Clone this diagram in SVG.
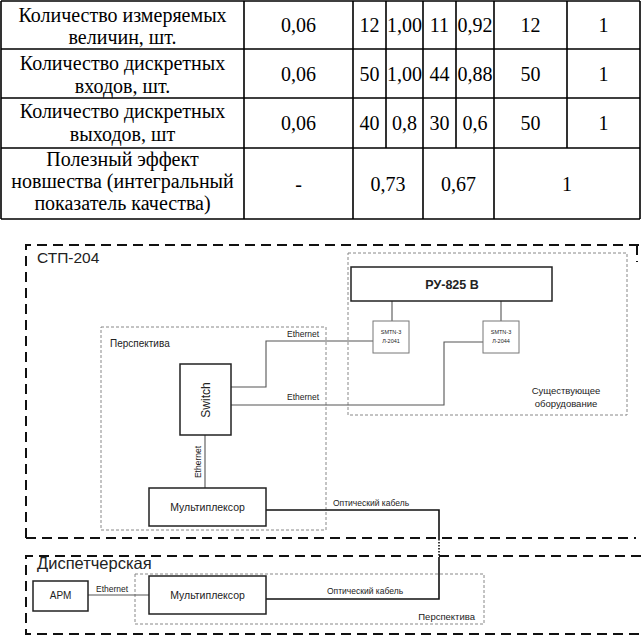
<svg xmlns="http://www.w3.org/2000/svg" width="641" height="635" viewBox="0 0 641 635">
<style>
.tl{stroke:#000;stroke-width:1.6;fill:none}
.tt{font-size:20px;fill:#000;text-anchor:middle}
.big{stroke:#111;stroke-width:2;stroke-dasharray:10 6;fill:none}
.dot{stroke:#888;stroke-width:1;stroke-dasharray:3 2;fill:none}
.box{stroke:#222;stroke-width:1.5;fill:#fff}
.sbox{stroke:#777;stroke-width:1;fill:#fff}
.ln{stroke:#555;stroke-width:1.1;fill:none}
.opt{stroke:#111;stroke-width:1.6;fill:none}
.s{font-family:"Liberation Sans",Arial,sans-serif;fill:#222}
.c{text-anchor:middle}
</style>
<rect width="641" height="635" fill="#fff"/>
<g id="table" font-family="'Liberation Serif', 'Times New Roman', 'DejaVu Serif', serif">
<path class="tl" d="M1 1H640M1 49H640M1 98H640M1 148H640M1 219H640M1 1V219M244 1V219M353 1V219M423 1V219M494 1V219M640 1V219M386 1V148M456 1V148M567 1V148"/>
<text class="tt" x="122.5" y="22">Количество измеряемых</text>
<text class="tt" x="122.5" y="44">величин, шт.</text>
<text class="tt" x="298.5" y="32">0,06</text><text class="tt" x="369.5" y="32">12</text><text class="tt" x="404.5" y="32">1,00</text><text class="tt" x="439.5" y="32">11</text><text class="tt" x="475" y="32">0,92</text><text class="tt" x="530.5" y="32">12</text><text class="tt" x="603.5" y="32">1</text>
<text class="tt" x="122.5" y="70">Количество дискретных</text>
<text class="tt" x="122.5" y="93">входов, шт.</text>
<text class="tt" x="298.5" y="81">0,06</text><text class="tt" x="369.5" y="81">50</text><text class="tt" x="404.5" y="81">1,00</text><text class="tt" x="439.5" y="81">44</text><text class="tt" x="475" y="81">0,88</text><text class="tt" x="530.5" y="81">50</text><text class="tt" x="603.5" y="81">1</text>
<text class="tt" x="122.5" y="118">Количество дискретных</text>
<text class="tt" x="122.5" y="141">выходов, шт</text>
<text class="tt" x="298.5" y="130">0,06</text><text class="tt" x="369.5" y="130">40</text><text class="tt" x="404.5" y="130">0,8</text><text class="tt" x="439.5" y="130">30</text><text class="tt" x="475" y="130">0,6</text><text class="tt" x="530.5" y="130">50</text><text class="tt" x="603.5" y="130">1</text>
<text class="tt" x="122.5" y="166">Полезный эффект</text>
<text class="tt" x="122.5" y="188">новшества (интегральный</text>
<text class="tt" x="122.5" y="210">показатель качества)</text>
<text class="tt" x="298.5" y="191">-</text><text class="tt" x="388" y="191">0,73</text><text class="tt" x="458.5" y="191">0,67</text><text class="tt" x="567" y="191">1</text>
</g>
<g id="zones">
<path class="big" d="M26 538V245H641M637 245V262M26 538H636"/>
<text class="s" x="37" y="263" font-size="15.5">СТП-204</text>
<path class="big" d="M641 556H26V634H641"/>
<text class="s" x="37" y="569" font-size="16.5">Диспетчерская</text>
<rect class="dot" x="101" y="327" width="225" height="203"/>
<text class="s" x="110" y="347" font-size="10">Перспектива</text>
<rect class="dot" x="348" y="253" width="279" height="162"/>
<text class="s c" x="566" y="394" font-size="9.5">Существующее</text>
<text class="s c" x="566" y="407" font-size="9.5">оборудование</text>
<rect class="dot" x="135" y="574" width="349" height="50"/>
<text class="s" x="475" y="620" font-size="9.5" text-anchor="end">Перспектива</text>
</g>
<g id="connectors">
<path class="ln" d="M231 387H266V341H373"/>
<path class="ln" d="M231 405H444V342H483"/>
<path class="ln" d="M392 301V321M501 301V321"/>
<path class="ln" d="M205 435V488"/>
<path class="ln" d="M88 595H149"/>
<path class="opt" d="M266 510H439V539"/>
<path class="opt" d="M439 539V558" stroke-dasharray="1.5 1.5"/>
<path class="opt" d="M439 558V599H266"/>
<text class="s" x="287" y="337" font-size="8.5">Ethernet</text>
<text class="s" x="287" y="400" font-size="8.5">Ethernet</text>
<text class="s c" font-size="8.5" transform="translate(201 462) rotate(-90)">Ethernet</text>
<text class="s" x="96" y="592" font-size="8.5">Ethernet</text>
<text class="s" x="333" y="506" font-size="8.5">Оптический кабель</text>
<text class="s" x="327" y="594" font-size="8.5">Оптический кабель</text>
</g>
<g id="ru825">
<rect class="box" x="351" y="267" width="201" height="34" stroke-width="2"/>
<text class="s c" x="452" y="289" font-size="12.5" font-weight="bold">РУ-825 В</text>
</g>
<g id="smtn1">
<rect class="sbox" x="373" y="321" width="36" height="32"/>
<text class="s c" x="391" y="334" font-size="5.5" fill="#555">SMTN-3</text>
<text class="s c" x="391" y="343" font-size="5.5" fill="#555">Л-2041</text>
</g>
<g id="smtn2">
<rect class="sbox" x="483" y="321" width="36" height="32"/>
<text class="s c" x="501" y="334" font-size="5.5" fill="#555">SMTN-3</text>
<text class="s c" x="501" y="343" font-size="5.5" fill="#555">Л-2044</text>
</g>
<g id="switch">
<rect class="box" x="180" y="364" width="51" height="71"/>
<text class="s c" font-size="12" transform="translate(209.5 400) rotate(-90)">Switch</text>
</g>
<g id="mux1">
<rect class="box" x="149" y="488" width="117" height="38"/>
<text class="s c" x="207.5" y="511" font-size="10.5">Мультиплексор</text>
</g>
<g id="arm">
<rect class="box" x="33" y="581" width="55" height="30"/>
<text class="s c" x="60.5" y="599" font-size="10">АРМ</text>
</g>
<g id="mux2">
<rect class="box" x="149" y="576" width="117" height="38"/>
<text class="s c" x="207.5" y="599" font-size="10.5">Мультиплексор</text>
</g>
</svg>
